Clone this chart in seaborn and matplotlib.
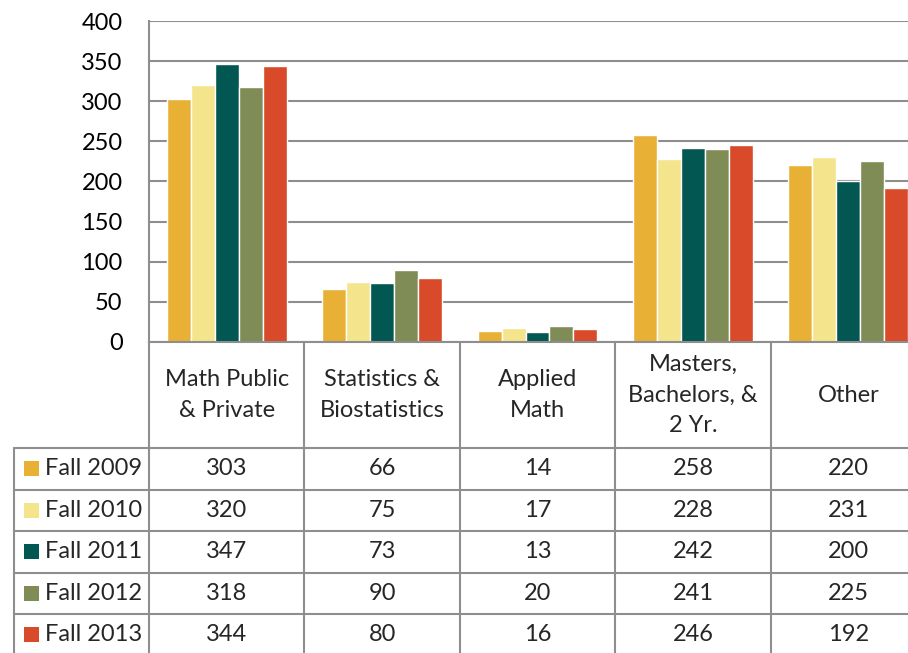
import matplotlib
matplotlib.use("Agg")
import matplotlib.pyplot as plt
import pandas as pd
import seaborn as sns

categories = ["Math Public\n& Private", "Statistics &\nBiostatistics", "Applied\nMath",
              "Masters,\nBachelors, &\n2 Yr.", "Other"]
years = ["Fall 2009", "Fall 2010", "Fall 2011", "Fall 2012", "Fall 2013"]
fall_2009 = [303, 66, 14, 258, 220]
fall_2010 = [320, 75, 17, 228, 231]
fall_2011 = [347, 73, 13, 242, 200]
fall_2012 = [318, 90, 20, 241, 225]
fall_2013 = [344, 80, 16, 246, 192]
series = [fall_2009, fall_2010, fall_2011, fall_2012, fall_2013]
colors = ["#E8B135", "#F4E48C", "#035752", "#7F8C55", "#D84A29"]

df = pd.DataFrame([(c, y, v[i]) for y, v in zip(years, series) for i, c in enumerate(categories)],
                  columns=["category", "year", "count"])

sns.set_theme(style="white")
plt.rcParams["font.family"] = ["Lato", "DejaVu Sans"]
FS = 17
GRID = "#8E8E8E"

W, H = 908, 653
left, right, top, bottom = 149, 926, 21, 342
fig = plt.figure(figsize=(W / 100, H / 100), dpi=100)
fig.patch.set_facecolor("white")

ax = fig.add_axes([left / W, 1 - bottom / H, (right - left) / W, (bottom - top) / H])
sns.barplot(data=df, x="category", y="count", hue="year", palette=colors, order=categories,
            hue_order=years, width=0.77, gap=0, saturation=1, legend=False, ax=ax)
ax.set_xlim(-0.5, len(categories) - 0.5)
ax.set_ylim(0, 400)
ax.set_yticks(range(0, 401, 50))
ax.set_xticks([])
ax.set_xlabel("")
ax.set_ylabel("")
ax.yaxis.grid(True, color=GRID, lw=1.5)
ax.set_axisbelow(True)
ax.tick_params(axis="y", length=0, pad=19, labelsize=FS, labelcolor="black")
for s in ["top", "right"]:
    ax.spines[s].set_visible(False)
for s in ["left", "bottom"]:
    ax.spines[s].set_color(GRID)
    ax.spines[s].set_linewidth(1.5)

# data table under the chart, in pixel coordinates
tax = fig.add_axes([0, 0, 1, 1], facecolor="none")
tax.set_xlim(0, W)
tax.set_ylim(H, 0)
tax.axis("off")
colw = (right - left) / len(categories)
head_bot = 448
rowh = 41.5
table_bot = head_bot + rowh * len(years)
leg_left = 14

for i in range(len(categories) + 1):
    x = left + i * colw
    tax.plot([x, x], [bottom, table_bot], color=GRID, lw=1.5, clip_on=False)
tax.plot([leg_left, leg_left], [head_bot, table_bot], color=GRID, lw=1.5)
for j in range(len(years)):
    yy = head_bot + j * rowh
    tax.plot([leg_left, right], [yy, yy], color=GRID, lw=1.5)

for i, c in enumerate(categories):
    tax.text(left + (i + 0.5) * colw, (bottom + head_bot) / 2, c, ha="center", va="center",
             fontsize=FS, linespacing=1.55)

for j, (y, v, col) in enumerate(zip(years, series, colors)):
    cy = head_bot + (j + 0.5) * rowh
    tax.add_patch(plt.Rectangle((24, cy - 7.5), 15, 15, color=col, lw=0))
    tax.text(45, cy, y, ha="left", va="center", fontsize=FS)
    for i, val in enumerate(v):
        tax.text(left + (i + 0.5) * colw, cy, str(val), ha="center", va="center", fontsize=FS)

fig.savefig("out.png", dpi=100, facecolor="white")
